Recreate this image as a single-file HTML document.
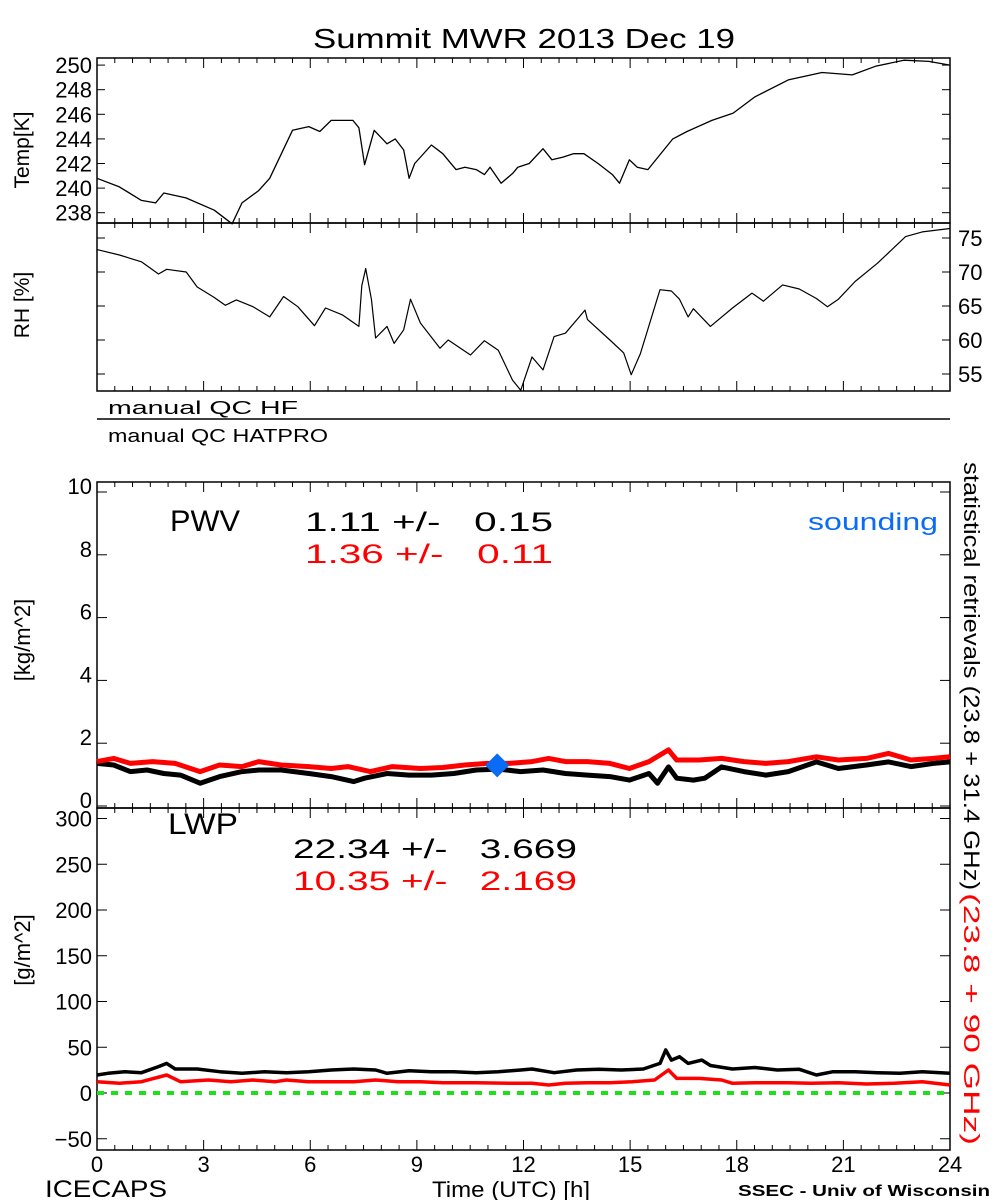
<!DOCTYPE html>
<html><head><meta charset="utf-8"><style>
body{margin:0;background:#fff}
svg{display:block;font-family:"Liberation Sans",sans-serif}
</style></head><body>
<svg id="c" width="1000" height="1200" viewBox="0 0 1000 1200"></svg>
<script>
const hours=[0,3,6,9,12,15,18,21,24];
const tempH=[0,0.63,1.25,1.65,1.88,2.5,3.3,3.8,4.08,4.55,4.86,5.5,5.96,6.27,6.59,7.2,7.37,7.53,7.8,8.16,8.39,8.63,8.78,8.94,9.41,9.73,10.1,10.35,10.67,10.9,11.06,11.37,11.7,11.84,12.16,12.55,12.8,13.1,13.4,13.7,14.1,14.5,14.7,14.98,15.2,15.5,16.2,16.6,17.3,17.9,18.5,19.45,20.4,21.25,21.9,22.7,23.4,24];
const tempV=[240.8,240.1,239.0,238.8,239.6,239.2,238.2,237.1,238.8,239.8,240.8,244.7,245.0,244.6,245.5,245.5,244.9,241.9,244.7,243.6,244.0,243.1,240.8,242.0,243.5,242.8,241.5,241.7,241.5,241.1,241.7,240.4,241.2,241.7,242.0,243.2,242.3,242.5,242.8,242.8,242.0,241.1,240.4,242.3,241.7,241.5,244.0,244.6,245.5,246.1,247.4,248.8,249.4,249.2,249.9,250.4,250.3,250.0];
const rhH=[0,0.63,1.25,1.73,1.96,2.51,2.82,3.29,3.61,3.92,4.39,4.86,5.25,5.65,6.12,6.43,6.9,7.37,7.45,7.56,7.72,7.84,8.16,8.36,8.63,8.82,9.1,9.65,9.88,10.51,10.9,11.29,11.69,11.92,12.24,12.55,12.86,13.18,13.57,13.73,13.8,14.43,14.82,15.03,15.29,15.84,16.16,16.39,16.63,16.78,17.26,17.88,18.43,18.75,19.29,19.76,20.24,20.55,20.86,21.33,21.96,22.75,23.22,24];
const rhV=[73.3,72.5,71.5,69.7,70.4,70.0,67.8,66.3,65.1,65.9,64.9,63.4,66.4,64.9,62.1,64.7,63.7,62.0,68.0,70.5,66.0,60.3,62.0,59.5,61.5,66.0,62.5,58.8,60.0,57.8,59.9,58.5,54.1,52.6,57.5,55.6,60.5,61.0,63.4,64.4,63.0,60.0,58.1,54.9,58.0,67.4,67.2,66.0,63.4,64.6,62.0,64.7,66.9,65.7,68.1,67.5,66.1,64.9,66.0,68.6,71.3,75.2,75.9,76.4];
const pwvH=[0,0.47,0.94,1.41,1.88,2.35,2.9,3.45,4.08,4.55,5.18,5.96,6.59,7.22,7.53,8.16,8.78,9.41,10.04,10.67,11.29,11.92,12.55,13.18,13.8,14.43,14.98,15.53,15.77,16.08,16.31,16.78,17.1,17.57,18.2,18.82,19.45,20.24,20.86,21.65,22.27,22.9,23.53,24];
const pwvBlack=[1.26,1.21,1.0,1.05,0.94,0.89,0.63,0.84,1.0,1.05,1.05,0.94,0.84,0.68,0.79,0.94,0.89,0.89,0.94,1.05,1.08,1.0,1.05,0.94,0.89,0.84,0.73,0.94,0.63,1.15,0.79,0.73,0.79,1.15,1.0,0.89,1.0,1.31,1.1,1.21,1.31,1.16,1.26,1.31];
const pwvRedH=[0,0.47,0.94,1.57,2.2,2.9,3.45,4.08,4.55,5.18,5.96,6.59,7.06,7.69,8.31,9.1,9.73,10.35,10.98,11.61,12.24,12.71,13.18,13.8,14.43,14.98,15.53,16.08,16.31,16.94,17.57,18.2,18.82,19.45,20.24,20.86,21.65,22.27,22.9,23.53,24];
const pwvRed=[1.32,1.42,1.26,1.32,1.26,1.0,1.21,1.16,1.32,1.21,1.16,1.1,1.16,1.0,1.16,1.1,1.13,1.21,1.26,1.26,1.32,1.42,1.32,1.32,1.26,1.1,1.32,1.69,1.37,1.37,1.42,1.32,1.26,1.32,1.47,1.37,1.42,1.58,1.37,1.42,1.47];
const sondeH=[11.26];
const sondeV=[1.2];
const lwpH=[0,0.31,0.78,1.25,1.73,1.96,2.2,2.82,3.45,4.08,4.71,5.33,5.96,6.59,7.22,7.84,8.16,8.78,9.41,10.04,10.67,11.29,11.92,12.24,12.86,13.49,14.12,14.75,15.37,15.84,16.0,16.16,16.39,16.63,17.02,17.26,17.88,18.51,19.14,19.76,20.24,20.71,21.33,21.96,22.59,23.22,24];
const lwpBlack=[19.7,21.5,23.3,22.2,28.8,32.4,26.2,26.2,23.3,21.5,23.3,22.2,23.3,25.1,26.2,25.1,21.5,24.4,23.3,23.3,22.2,23.3,25.1,26.2,22.2,25.1,25.9,25.1,26.2,32.4,47,36,39.7,32.4,36,30,26.2,27.9,25.1,25.9,19.7,23.3,23.3,22.2,21.5,23.3,21.5];
const lwpRedH=[0,0.63,1.25,1.96,2.35,3.14,3.76,4.39,5.02,5.33,5.96,6.59,7.22,7.84,8.47,9.1,9.73,10.67,11.61,12.24,12.71,13.18,13.8,14.43,15.06,15.69,16.08,16.31,16.94,17.57,17.88,18.51,19.45,20.08,20.86,21.65,22.43,23.22,24];
const lwpRed=[12.4,10.6,12.4,19.7,12.4,14.2,12.4,14.2,12.4,14.2,12.4,12.4,12.4,14.2,12.4,12.4,11.3,11.3,10.6,10.6,8.7,10.6,11.3,11.3,12.4,14.2,25.1,16,16,14.2,10.6,11.3,11.3,10.6,11.3,9.8,10.6,12.4,8.7];
const tempTicks=[238,240,242,244,246,248,250];
const rhTicks=[55,60,65,70,75];
const pwvTicks=[0,2,4,6,8,10];
const lwpTicks=[-50,0,50,100,150,200,250,300];

const NS="http://www.w3.org/2000/svg";
const svg=document.getElementById('c');
const X0=97,X1=950;
const xs=h=>X0+(X1-X0)*h/24;
const tY=v=>212.7-(v-238)*12.3;
const rY=v=>238-(v-75)*6.8;
const pY=v=>803-v*31.4;
const lY=v=>1093-v*0.915;
function el(tag,attrs,parent){const e=document.createElementNS(NS,tag);for(const k in attrs)e.setAttribute(k,attrs[k]);(parent||svg).appendChild(e);return e;}
function txt(s,x,y,size,attrs){const t=el('text',Object.assign({x:x,y:y,'font-size':size},attrs||{}));t.textContent=s;return t;}
function line(H,V,ys,color,w,name){
  const d=H.map((h,i)=>(i?'L':'M')+xs(h).toFixed(1)+','+ys(V[i]).toFixed(1)).join('');
  const p=el('path',{d:d,fill:'none',stroke:color,'stroke-width':w,'stroke-linejoin':'round'});
  
  
}
function frame(y0,y1,name){
  const r=el('rect',{x:X0,y:y0,width:X1-X0,height:y1-y0,fill:'none',stroke:'#000','stroke-width':1.5});
  
  
  for(let h=0;h<=24;h+=0.5){const big=(h%3===0);const L=big?10:5;
    el('line',{x1:xs(h),x2:xs(h),y1:y1,y2:y1-L,stroke:'#000'});
    el('line',{x1:xs(h),x2:xs(h),y1:y0,y2:y0+L,stroke:'#000'});}
}
const ti=txt('Summit MWR 2013 Dec 19',313,48,28,{textLength:422,lengthAdjust:'spacingAndGlyphs'});


frame(58,223,'temp-panel');
tempTicks.forEach(v=>{el('line',{x1:X0,x2:X0+8,y1:tY(v),y2:tY(v),stroke:'#000'});el('line',{x1:X1,x2:X1-8,y1:tY(v),y2:tY(v),stroke:'#000'});
  const t=txt(String(v),92,tY(v)+8,22,{'text-anchor':'end'});
  
  });
const tyl=txt('Temp[K]',0,0,21,{'text-anchor':'middle',transform:'translate(29,150) rotate(-90)'});


line(tempH,tempV,tY,'#000',1.3,'temp-line');
frame(223,391,'rh-panel');
rhTicks.forEach(v=>{el('line',{x1:X1,x2:X1-8,y1:rY(v),y2:rY(v),stroke:'#000'});el('line',{x1:X0,x2:X0+8,y1:rY(v),y2:rY(v),stroke:'#000'});
  const t=txt(String(v),958,rY(v)+8,22,{});
  
  });
const ryl=txt('RH [%]',0,0,21,{'text-anchor':'middle',transform:'translate(29,305) rotate(-90)'});


line(rhH,rhV,rY,'#000',1.2,'rh-line');
const q1=txt('manual QC HF',108,414,18,{textLength:190,lengthAdjust:'spacingAndGlyphs'});


el('line',{x1:X0,x2:X1,y1:419,y2:419,stroke:'#000','stroke-width':1.5});
const q2=txt('manual QC HATPRO',108,442,18,{textLength:220,lengthAdjust:'spacingAndGlyphs'});


frame(482,808,'pwv-panel');
pwvTicks.forEach(v=>{el('line',{x1:X0,x2:X0+10,y1:pY(v)+3,y2:pY(v)+3,stroke:'#000'});el('line',{x1:X1,x2:X1-10,y1:pY(v)+3,y2:pY(v)+3,stroke:'#000'});
  const t=txt(String(v),92,pY(v)+5,22,{'text-anchor':'end'});
  
  });
const pyl=txt('[kg/m^2]',0,0,22,{'text-anchor':'middle',transform:'translate(30,640) rotate(-90)'});


line(pwvH,pwvBlack,pY,'#000',5,'pwv-black-series');
line(pwvRedH,pwvRed,pY,'#f00',5,'pwv-red-series');
sondeH.forEach((h,i)=>{const x=xs(h),y=pY(sondeV[i]);
  const d=el('polygon',{points:`${x},${y-12} ${x+12},${y} ${x},${y+12} ${x-12},${y}`,fill:'#0a6cf5'});
  
  });
const a=txt('PWV',170,531,30,{textLength:70,lengthAdjust:'spacingAndGlyphs'});
const b=txt('1.11 +/-   0.15',305,531,27,{textLength:248,lengthAdjust:'spacingAndGlyphs'});b.style.whiteSpace='pre';
const c=txt('1.36 +/-   0.11',305,563,27,{fill:'#f00',textLength:248,lengthAdjust:'spacingAndGlyphs'});c.style.whiteSpace='pre';
const s=txt('sounding',808,530,24,{fill:'#0a6cf5',textLength:130,lengthAdjust:'spacingAndGlyphs'});
frame(808,1150,'lwp-panel');
lwpTicks.forEach(v=>{el('line',{x1:X0,x2:X0+10,y1:lY(v),y2:lY(v),stroke:'#000'});el('line',{x1:X1,x2:X1-10,y1:lY(v),y2:lY(v),stroke:'#000'});
  const t=txt(String(v).replace('-','−'),92,lY(v)+8,22,{'text-anchor':'end'});
  
  });
const lyl=txt('[g/m^2]',0,0,22,{'text-anchor':'middle',transform:'translate(30,950) rotate(-90)'});


const g=el('line',{x1:X0,x2:X1,y1:lY(0),y2:lY(0),stroke:'#1de01d','stroke-width':4,'stroke-dasharray':'7 7'});


line(lwpH,lwpBlack,lY,'#000',3.5,'lwp-black-series');
line(lwpRedH,lwpRed,lY,'#f00',3.5,'lwp-red-series');
const d1=txt('LWP',168,834,30,{textLength:70,lengthAdjust:'spacingAndGlyphs'});
const d2=txt('22.34 +/-   3.669',293,858,27,{textLength:284,lengthAdjust:'spacingAndGlyphs'});d2.style.whiteSpace='pre';
const d3=txt('10.35 +/-   2.169',293,890,27,{fill:'#f00',textLength:284,lengthAdjust:'spacingAndGlyphs'});d3.style.whiteSpace='pre';
const r1=txt('statistical retrievals (23.8 + 31.4 GHz)',0,0,22,{transform:'translate(964,462) rotate(90)',textLength:428,lengthAdjust:'spacingAndGlyphs'});


const r2=txt('(23.8 + 90 GHz)',0,0,22,{fill:'#f00',transform:'translate(964,893) rotate(90)',textLength:252,lengthAdjust:'spacingAndGlyphs'});


hours.forEach(h=>{const t=txt(String(h),xs(h),1172,22,{'text-anchor':'middle'});
  
  });
const xt=txt('Time (UTC) [h]',432,1197,22,{textLength:158,lengthAdjust:'spacingAndGlyphs'});


const ic=txt('ICECAPS',45,1197,24,{textLength:122,lengthAdjust:'spacingAndGlyphs'});


const ss=txt('SSEC - Univ of Wisconsin',738,1196,16,{'font-weight':'bold',textLength:252,lengthAdjust:'spacingAndGlyphs'});


</script>
</body></html>
